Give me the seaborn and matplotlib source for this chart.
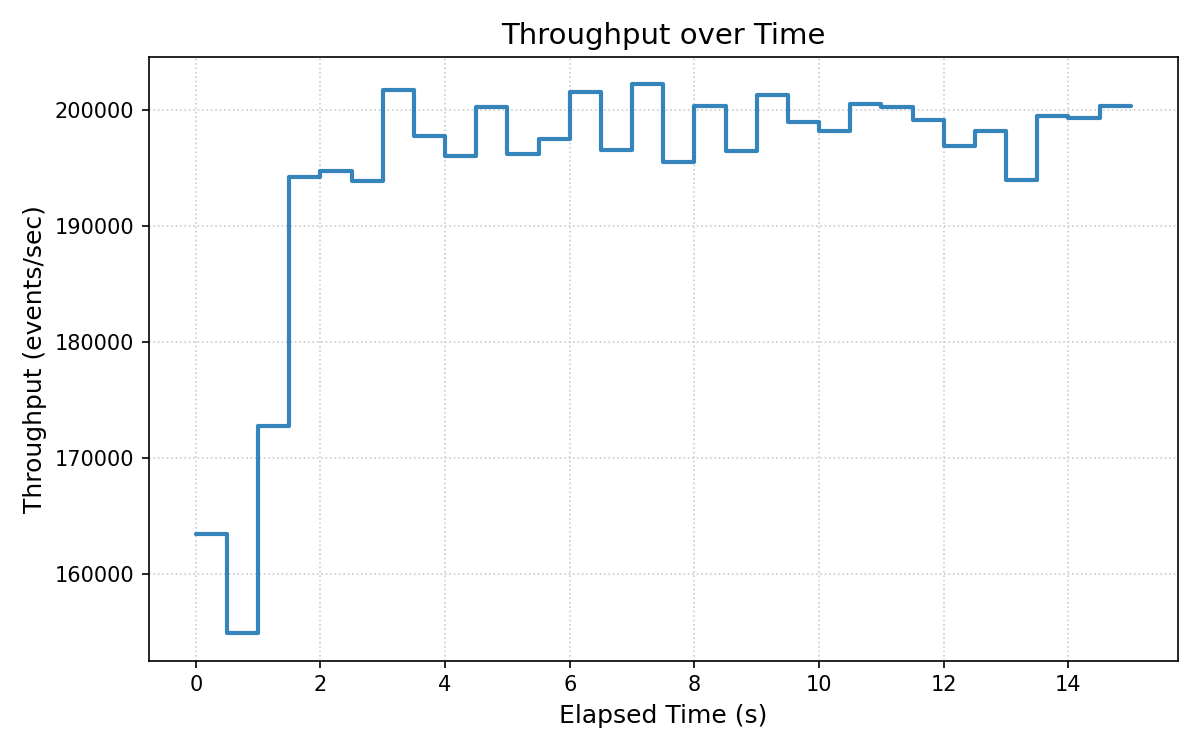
import matplotlib
matplotlib.use("Agg")
import matplotlib.pyplot as plt
import seaborn as sns
import pandas as pd

# Elapsed time in seconds (sampled every 0.5 s)
elapsed_s = [0.0, 0.5, 1.0, 1.5, 2.0, 2.5, 3.0, 3.5, 4.0, 4.5,
             5.0, 5.5, 6.0, 6.5, 7.0, 7.5, 8.0, 8.5, 9.0, 9.5,
             10.0, 10.5, 11.0, 11.5, 12.0, 12.5, 13.0, 13.5, 14.0, 14.5, 15.0]

# Throughput in events/sec
throughput = [163450, 154860, 172760, 194190, 194740, 193840, 201690, 197760, 196020, 200230,
              196250, 197500, 201600, 196540, 202210, 195520, 200320, 196450, 201280, 198980,
              198200, 200490, 200230, 199100, 196890, 198200, 193950, 199510, 199330, 200320, 200320]

df = pd.DataFrame({"elapsed": elapsed_s, "throughput": throughput})

sns.set_style("ticks", rc={
    "axes.edgecolor": "black",
    "text.color": "black",
    "axes.labelcolor": "black",
    "xtick.color": "black",
    "ytick.color": "black",
})
plt.rcParams['font.family'] = ['DejaVu Sans']

fig, ax = plt.subplots(figsize=(8, 5), dpi=150)
sns.lineplot(data=df, x="elapsed", y="throughput", ax=ax,
             drawstyle="steps-post", color="#1f77b4", alpha=0.9, linewidth=2)

ax.set_title("Throughput over Time", fontsize=14)
ax.set_xlabel("Elapsed Time (s)", fontsize=12)
ax.set_ylabel("Throughput (events/sec)", fontsize=12)
ax.grid(True, linestyle=":", color="#cccccc", linewidth=0.8)
for spine in ax.spines.values():
    spine.set_visible(True)
    spine.set_linewidth(0.8)

plt.tight_layout()
plt.savefig("out.png", dpi=150)
